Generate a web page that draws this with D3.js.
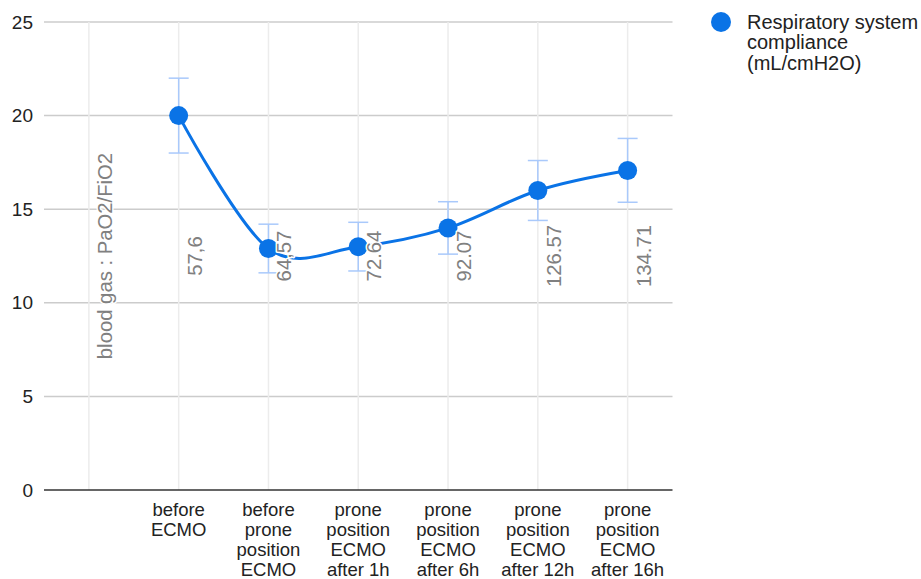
<!DOCTYPE html>
<html lang="en">
<head>
<meta charset="utf-8">
<title>Respiratory system compliance</title>
<script src="https://cdnjs.cloudflare.com/ajax/libs/d3/7.8.5/d3.min.js"></script>
<style>
  body { margin: 0; background: #fff; }
  svg text { font-family: "Liberation Sans", Arial, sans-serif; }
</style>
</head>
<body>
<svg id="chart" width="921" height="579"></svg>
<script>
// categories (first slot holds only the annotation title)
var categories = ["", "before ECMO", "before prone position ECMO", "prone position ECMO after 1h",
                  "prone position ECMO after 6h", "prone position ECMO after 12h", "prone position ECMO after 16h"];
var labelLines = [[], ["before", "ECMO"], ["before", "prone", "position", "ECMO"],
                  ["prone", "position", "ECMO", "after 1h"], ["prone", "position", "ECMO", "after 6h"],
                  ["prone", "position", "ECMO", "after 12h"], ["prone", "position", "ECMO", "after 16h"]];
var compliance = [null, 20.0, 12.9, 13.0, 14.0, 16.0, 17.07];
var errLow  = [null, 18.0, 11.6, 11.7, 12.6, 14.4, 15.37];
var errHigh = [null, 22.0, 14.2, 14.3, 15.4, 17.6, 18.78];
var annotations = ["blood gas : PaO2/FiO2", "57,6", "64,57", "72.64", "92.07", "126.57", "134.71"];
var yTicks = [0, 5, 10, 15, 20, 25];
var seriesName = ["Respiratory system", "compliance", "(mL/cmH2O)"];

var blue = "#0a73e6", errColor = "#a9c9fb";
var svg = d3.select("#chart");
var mLeft = 44, mRight = 672.5, mTop = 22, mBottom = 490;

var x = d3.scaleBand().domain(categories.map((c, i) => i)).range([mLeft, mRight]);
var y = d3.scaleLinear().domain([0, 25]).range([mBottom, mTop]);
var cx = i => x(i) + x.bandwidth() / 2;

// horizontal grid
svg.append("g").selectAll("line").data(yTicks.filter(t => t > 0)).enter().append("line")
  .attr("x1", mLeft).attr("x2", mRight).attr("y1", d => y(d)).attr("y2", d => y(d))
  .attr("stroke", "#cccccc").attr("stroke-width", 1.5);

// vertical grid
svg.append("g").selectAll("line").data(categories.map((c, i) => i)).enter().append("line")
  .attr("x1", cx).attr("x2", cx).attr("y1", mTop).attr("y2", mBottom)
  .attr("stroke", "#ececec").attr("stroke-width", 1.5);

// baseline
svg.append("line").attr("x1", mLeft).attr("x2", mRight).attr("y1", y(0)).attr("y2", y(0))
  .attr("stroke", "#333").attr("stroke-width", 1.5);

// y tick labels
svg.append("g").selectAll("text").data(yTicks).enter().append("text")
  .attr("x", 33).attr("y", d => y(d)).attr("dy", "0.35em")
  .attr("text-anchor", "end").attr("font-size", 19).attr("fill", "#222").text(d => d);

// x labels
labelLines.forEach(function(lines, i) {
  var t = svg.append("text").attr("text-anchor", "middle").attr("font-size", 18.5).attr("fill", "#222");
  lines.forEach(function(l, k) {
    t.append("tspan").attr("x", cx(i)).attr("y", 515.5 + k * 20.3).text(l);
  });
});

var pts = compliance.map((v, i) => ({ i: i, v: v, lo: errLow[i], hi: errHigh[i] })).filter(d => d.v != null);

// error bars
var eb = svg.append("g").attr("stroke", errColor).attr("stroke-width", 1.5);
pts.forEach(function(d) {
  eb.append("line").attr("x1", cx(d.i)).attr("x2", cx(d.i)).attr("y1", y(d.lo)).attr("y2", y(d.hi));
  [d.lo, d.hi].forEach(function(e) {
    eb.append("line").attr("x1", cx(d.i) - 10).attr("x2", cx(d.i) + 10).attr("y1", y(e)).attr("y2", y(e));
  });
});

// smoothed line
var line = d3.line().x(d => cx(d.i)).y(d => y(d.v)).curve(d3.curveCardinal.tension(0));
svg.append("path").datum(pts).attr("d", line).attr("fill", "none")
  .attr("stroke", blue).attr("stroke-width", 3);

// points
svg.append("g").selectAll("circle").data(pts).enter().append("circle")
  .attr("cx", d => cx(d.i)).attr("cy", d => y(d.v)).attr("r", 9.5).attr("fill", blue);

// annotations, drawn on top with a white halo
svg.append("g").selectAll("text").data(annotations).enter().append("text")
  .attr("transform", (d, i) => "translate(" + (cx(i) + 23) + ",256) rotate(-90)")
  .attr("text-anchor", "middle").attr("font-size", 20.3).attr("fill", "#808080")
  .attr("stroke", "#fff").attr("stroke-width", 3).attr("paint-order", "stroke")
  .attr("stroke-linejoin", "round").text(d => d);

// legend
svg.append("circle").attr("cx", 721).attr("cy", 22).attr("r", 10).attr("fill", blue);
var lg = svg.append("text").attr("font-size", 20).attr("fill", "#222");
seriesName.forEach(function(s, k) {
  lg.append("tspan").attr("x", 747).attr("y", 28.5 + k * 20.5).text(s);
});
</script>
</body>
</html>
